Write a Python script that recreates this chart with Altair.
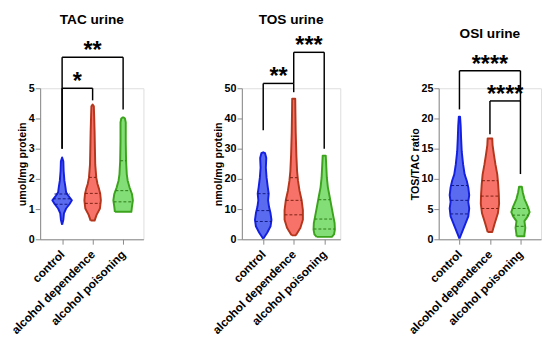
import altair as alt
import pandas as pd

FONT = "Liberation Sans"
GROUPS = ["control", "alcohol dependence", "alcohol poisoning"]
FILL = ["#5b6bf0", "#f7736a", "#84de78"]
STROKE = ["#1420e0", "#b4361c", "#3ca41c"]
LINE = ["#101880", "#7a2010", "#2a7a14"]

# ---- TAC urine: violin outlines (value, half-width in category units)
TAC_control_v = [0.48, 0.65, 0.86, 1.02, 1.16, 1.29, 1.45, 1.56, 1.72, 1.94, 2.26, 2.58, 2.71]
TAC_control_w = [0.0, 0.04, 0.06, 0.13, 0.24, 0.32, 0.2, 0.13, 0.11, 0.075, 0.05, 0.04, 0.0]
TAC_dep_v = [0.62, 0.81, 1.02, 1.29, 1.5, 1.67, 1.83, 2.04, 2.47, 3.01, 3.55, 4.09, 4.4, 4.46]
TAC_dep_w = [0.065, 0.13, 0.24, 0.27, 0.25, 0.21, 0.16, 0.12, 0.086, 0.075, 0.065, 0.05, 0.04, 0.0]
TAC_poi_v = [0.91, 1.08, 1.29, 1.5, 1.72, 1.94, 2.15, 2.58, 3.23, 3.87, 4.0, 4.03]
TAC_poi_w = [0.27, 0.29, 0.32, 0.29, 0.21, 0.15, 0.12, 0.097, 0.086, 0.086, 0.06, 0.02]
# quartile lines (value, half-width)
TAC_q_v = [[1.16, 1.34, 1.5], [1.19, 1.52, 2.05], [1.24, 1.61, 2.6]]
TAC_q_w = [[0.24, 0.3, 0.25], [0.25, 0.25, 0.12], [0.31, 0.25, 0.097]]
# brackets: left group, right group, top, left leg bottom, right leg bottom, label
TAC_brackets = [(0, 1, 5.0, 3.0, 4.6, "*"), (0, 2, 6.03, 3.0, 4.3, "**")]

# ---- TOS urine
TOS_control_v = [0.2, 2.15, 4.3, 6.45, 8.6, 10.75, 12.9, 15.1, 17.2, 20.4, 23.7, 26.9, 28.5, 28.8]
TOS_control_w = [0.0, 0.13, 0.24, 0.27, 0.24, 0.19, 0.16, 0.18, 0.15, 0.11, 0.086, 0.1, 0.06, 0.0]
TOS_dep_v = [1.3, 1.6, 3.8, 6.45, 9.7, 12.9, 16.1, 19.4, 22.6, 28.0, 35.5, 43.0, 46.5]
TOS_dep_w = [0.06, 0.086, 0.22, 0.3, 0.3, 0.26, 0.19, 0.14, 0.11, 0.086, 0.065, 0.054, 0.05]
TOS_poi_v = [0.8, 1.6, 3.2, 5.4, 7.5, 10.75, 14.0, 17.2, 20.4, 24.7, 27.7]
TOS_poi_w = [0.25, 0.32, 0.35, 0.34, 0.3, 0.24, 0.18, 0.12, 0.086, 0.065, 0.05]
TOS_q_v = [[5.9, 9.5, 15.1], [8.1, 12.9, 20.4], [3.4, 6.7, 13.1]]
TOS_q_w = [[0.27, 0.22, 0.18], [0.3, 0.26, 0.12], [0.35, 0.32, 0.19]]
TOS_brackets = [(0, 1, 51.6, 36.1, 48.7, "**"), (1, 2, 61.9, 51.6, 30.0, "***")]

# ---- OSI urine
OSI_control_v = [0.1, 2.15, 3.8, 5.1, 6.2, 7.3, 8.6, 9.7, 10.75, 12.4, 14.5, 16.7, 18.8, 20.3]
OSI_control_w = [0.0, 0.16, 0.29, 0.32, 0.29, 0.32, 0.29, 0.24, 0.17, 0.12, 0.075, 0.054, 0.04, 0.02]
OSI_dep_v = [1.2, 2.7, 4.3, 5.9, 7.5, 9.1, 10.75, 12.4, 14.0, 15.6, 16.7]
OSI_dep_w = [0.075, 0.16, 0.26, 0.3, 0.29, 0.27, 0.24, 0.18, 0.13, 0.086, 0.075]
OSI_poi_v = [0.5, 0.8, 1.9, 3.0, 3.8, 4.5, 5.4, 6.7, 7.8, 8.7]
OSI_poi_w = [0.13, 0.13, 0.16, 0.13, 0.24, 0.3, 0.24, 0.13, 0.075, 0.045]
OSI_q_v = [[4.2, 6.45, 8.9], [5.1, 7.15, 9.7], [2.15, 4.0, 5.1]]
OSI_q_w = [[0.3, 0.29, 0.27], [0.28, 0.3, 0.26], [0.15, 0.27, 0.25]]
OSI_brackets = [(0, 2, 27.9, 21.5, 22.9, "****"), (1, 2, 22.9, 17.4, 10.8, "****")]

label_expr = "[" + ",".join("'%s'" % g for g in GROUPS) + "][datum.value]"


def panel(title, ytitle, ymax, ystep, outlines, qv, qw, brackets, width, xlo, toff):
    # closed violin polygons: up the left side, down the right side
    rows = []
    for g, (vs, ws) in enumerate(outlines):
        k = 0
        for v, w in zip(vs, ws):
            rows.append({"group": GROUPS[g], "pos": g, "v": v, "hw": -w, "k": k})
            k += 1
        for v, w in zip(reversed(vs), reversed(ws)):
            rows.append({"group": GROUPS[g], "pos": g, "v": v, "hw": w, "k": k})
            k += 1
        rows.append({"group": GROUPS[g], "pos": g, "v": vs[0], "hw": -ws[0], "k": k})
    vdf = pd.DataFrame(rows)
    qrows = []
    for g in range(3):
        for v, w in zip(qv[g], qw[g]):
            qrows.append({"group": GROUPS[g], "pos": g, "v": v, "hw": w})
    qdf = pd.DataFrame(qrows)
    srows, trows = [], []
    for (a, b, top, lb, rb, lab) in brackets:
        srows.append({"x": a, "x2": b, "y": top, "y2": top})
        srows.append({"x": a, "x2": a, "y": top, "y2": lb})
        srows.append({"x": b, "x2": b, "y": top, "y2": rb})
        trows.append({"x": (a + b) / 2, "y": top, "label": lab})
    sdf = pd.DataFrame(srows)
    tdf = pd.DataFrame(trows)

    xhi = xlo + width / 31.3
    xscale = alt.Scale(domain=[xlo, xhi], nice=False, zero=False)
    yscale = alt.Scale(domain=[0, ymax], nice=False)
    xaxis = alt.Axis(values=[0, 1, 2], labelExpr=label_expr, title=None, grid=False,
                     labelAngle=315, labelAlign="right", labelBaseline="middle",
                     labelFontSize=12, labelFontWeight="bold", labelPadding=8,
                     labelOverlap=False, labelBound=False,
                     tickSize=5, labelColor="black")
    yaxis = alt.Axis(values=list(range(0, ymax + 1, ystep)), title=ytitle, grid=False,
                     labelFontSize=11, labelFontWeight="bold", labelPadding=1,
                     titleFontSize=11, titleFontWeight="bold", titlePadding=1,
                     tickSize=5, labelColor="black", titleColor="black")
    fscale = alt.Scale(domain=GROUPS, range=FILL)
    sscale = alt.Scale(domain=GROUPS, range=STROKE)
    lscale = alt.Scale(domain=GROUPS, range=LINE)

    violins = alt.Chart(vdf).transform_calculate(
        px="datum.pos + datum.hw"
    ).mark_line(strokeWidth=2, strokeJoin="round").encode(
        y=alt.Y("v:Q", scale=yscale, axis=yaxis),
        x=alt.X("px:Q", scale=xscale, axis=xaxis),
        fill=alt.Fill("group:N", scale=fscale, legend=None),
        stroke=alt.Stroke("group:N", scale=sscale, legend=None),
        order="k:Q",
        detail="group:N",
    )
    quart = alt.Chart(qdf).transform_calculate(
        lo="datum.pos - datum.hw", hi="datum.pos + datum.hw"
    ).mark_rule(strokeWidth=1, strokeDash=[3, 2]).encode(
        y=alt.Y("v:Q", scale=yscale, axis=yaxis),
        x=alt.X("lo:Q", scale=xscale, axis=xaxis),
        x2="hi:Q",
        stroke=alt.Stroke("group:N", scale=lscale, legend=None),
    )
    segs = alt.Chart(sdf).mark_rule(strokeWidth=1.5, color="black").encode(
        x=alt.X("x:Q", scale=xscale, axis=xaxis),
        x2="x2:Q",
        y=alt.Y("y:Q", scale=yscale, axis=yaxis),
        y2="y2:Q",
    )
    stars = alt.Chart(tdf).mark_text(fontSize=24, fontWeight="bold", font=FONT,
                                     baseline="alphabetic", align="center",
                                     color="black", dy=1).encode(
        x=alt.X("x:Q", scale=xscale, axis=xaxis),
        y=alt.Y("y:Q", scale=yscale, axis=yaxis),
        text="label:N",
    )
    return alt.layer(violins, quart, segs, stars).resolve_scale(
        stroke="independent"
    ).properties(
        width=width, height=155,
        title=alt.TitleParams(title, fontSize=14, fontWeight="bold", font=FONT,
                              offset=toff, anchor="middle", color="black"),
    )


p1 = panel("TAC urine", "umol/mg protein", 5, 1,
           [(TAC_control_v, TAC_control_w), (TAC_dep_v, TAC_dep_w), (TAC_poi_v, TAC_poi_w)],
           TAC_q_v, TAC_q_w, TAC_brackets, 106, -0.72, 13)
p2 = panel("TOS urine", "nmol/mg protein", 50, 10,
           [(TOS_control_v, TOS_control_w), (TOS_dep_v, TOS_dep_w), (TOS_poi_v, TOS_poi_w)],
           TOS_q_v, TOS_q_w, TOS_brackets, 101, -0.70, 8)
p3 = panel("OSI urine", "TOS/TAC ratio", 25, 5,
           [(OSI_control_v, OSI_control_w), (OSI_dep_v, OSI_dep_w), (OSI_poi_v, OSI_poi_w)],
           OSI_q_v, OSI_q_w, OSI_brackets, 105, -0.68, 13)

chart = alt.hconcat(p1, p2, p3, spacing=101, bounds="flush").properties(
    padding={"left": 0, "top": 0, "right": 0, "bottom": 0}
).configure_view(stroke=None).configure_axis(
    domainColor="black", domainWidth=1.6, tickColor="black", tickWidth=1.6,
    labelFont=FONT, titleFont=FONT,
).configure(background="white")

chart.save("out.html", embed_options={"renderer": "svg", "actions": False})
